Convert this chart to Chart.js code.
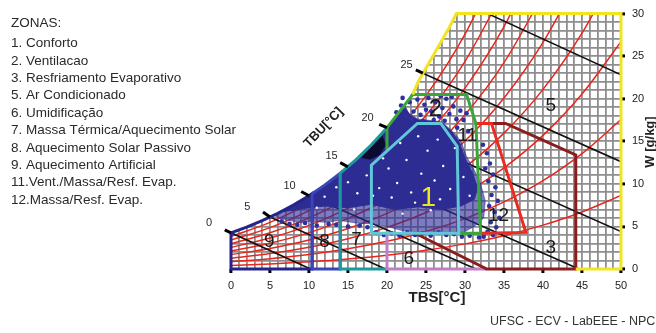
<!DOCTYPE html>
<html>
<head>
<meta charset="utf-8">
<script src="https://cdn.jsdelivr.net/npm/chart.js@4.4.1/dist/chart.umd.min.js"></script>
<style>
  html, body { margin: 0; padding: 0; background: #fff; }
  #wrap { width: 656px; height: 333px; }
</style>
</head>
<body>
<div id="wrap"><canvas id="psy" width="656" height="333"></canvas></div>
<script>
// carta bioclimatica - TBS x W, com zonas e dados horarios

// linhas de umidade relativa (10..90%), W [g/kg] nos pontos de TBS
var tbsPts = [0, 5, 10, 15, 20, 25, 30, 35, 40, 45, 50];
var rh10 = [0.42, 0.60, 0.85, 1.18, 1.62, 2.20, 2.95, 3.91, 5.15, 6.70, 8.65];
var rh20 = [0.85, 1.21, 1.70, 2.37, 3.25, 4.41, 5.92, 7.88, 10.38, 13.55, 17.55];
var rh30 = [1.27, 1.81, 2.56, 3.56, 4.89, 6.64, 8.93, 11.89, 15.70, 20.55, 26.70];
var rh40 = [1.69, 2.42, 3.41, 4.75, 6.53, 8.89, 11.96, 15.96, 21.10, 27.70, 36.1];
var rh50 = [2.12, 3.03, 4.27, 5.95, 8.19, 11.15, 15.03, 20.08, 26.61, 35.0];
var rh60 = [2.54, 3.64, 5.13, 7.15, 9.85, 13.42, 18.12, 24.25, 32.2];
var rh70 = [2.97, 4.25, 6.00, 8.36, 11.53, 15.72, 21.24, 28.47, 37.9];
var rh80 = [3.40, 4.86, 6.86, 9.57, 13.21, 18.03, 24.40, 32.75];
var rh90 = [3.82, 5.47, 7.73, 10.79, 14.90, 20.36, 27.58, 37.1];

// curva de saturacao
var satT = [0, 2, 4, 6, 8, 10, 12, 14, 16, 18, 20, 22, 24, 26, 28, 28.9];
var satW = [4.25, 4.92, 5.67, 6.53, 7.5, 8.6, 9.85, 11.25, 12.82, 14.6, 16.6, 18.9, 22.0, 25.2, 28.4, 30];
// borda superior/esquerda fora da carta (sem grade)
var outerEdge = [[0, 4.25], [0, 30], [28.9, 30]];

// linhas de TBU (inicio na saturacao, fim)
var tbuNames = ['0', '5', '10', '15', '20', '25', ''];
var tbuFrom = [[0, 4.25], [5, 6.1], [10, 8.6], [15, 12.0], [20, 16.6], [24.6, 23.0], [32.9, 30]];
var tbuTo = [[10.2, 0], [19.8, 0], [31.4, 0], [44.6, 0], [50, 4.4], [50, 12.6], [50, 22.8]];
var tbuTick = [[-0.8, 4.6], [4.1, 6.7], [9.0, 9.1], [14.0, 12.5], [19.0, 17.0], [23.7, 23.4]];

// zonas
var zone9 = [[0, 4.25], [2, 4.92], [4, 5.67], [6, 6.53], [8, 7.5], [10, 8.6], [10.4, 8.85], [10.4, 0], [0, 0], [0, 4.25]];
var zone8 = [[10.4, 8.85], [12, 9.85], [14, 11.25], [14, 0], [10.4, 0], [10.4, 8.85]];
var zone7 = [[20, 16.6], [18, 14.6], [16, 12.82], [14, 11.25], [14, 0], [20, 0]];
var zone6 = [[20, 4.2], [20, 0], [32.8, 0]];
var zone1 = [[18, 4.2], [18, 12.2], [23.9, 17.1], [26.9, 17.1], [29, 14.4], [29.2, 4.2], [18, 4.2]];
var zone2 = [[20, 13.9], [20, 16.6], [23.3, 20.5], [30.2, 20.5], [31.4, 17.1], [32, 4.2], [29.2, 4.2]];
var zone3 = [[23.6, 4.2], [32.8, 0], [44.2, 0], [44.2, 13.4], [35.2, 17.1], [33.4, 17.1]];
var zone12 = [[31.4, 17.1], [33.4, 17.1], [37.8, 4.3], [32, 4.2]];
var zone5 = [[23.3, 20.5], [24, 22.0], [26, 25.2], [28, 28.4], [28.9, 30], [50, 30], [50, 0], [44.2, 0]];

// nuvem de dados horarios: contorno externo (franja) e nucleo denso
var cloud = [[5.5, 6.35], [8, 7.5], [10, 8.6], [12, 9.85], [14, 11.25], [16, 12.82], [18, 14.6], [20, 16.6],
  [21, 17.7], [22.3, 19.2], [22.8, 18.3], [24, 17.6], [27, 17.3], [28.5, 16.1], [29.5, 15.0], [30.2, 13.2],
  [31.2, 11.6], [32, 10], [32.6, 8], [32.4, 6], [31.2, 5.0], [30, 4.4], [28, 4.4], [25, 4.3], [22, 4.5],
  [20, 5.0], [18, 5.3], [16, 5.4], [14, 5.7], [12, 5.5], [10, 5.6], [9, 5.4], [7, 5.8], [6, 6.0], [5.5, 6.35]];
var core = [[6.2, 6.7], [8, 7.5], [10, 8.6], [12, 9.85], [14, 11.25], [16, 12.82], [18, 14.6], [20, 16.6],
  [21, 17.7], [22.3, 18.9], [23, 18.0], [24, 17.5], [27, 17.2], [28.4, 16.0], [29.3, 14.8], [30, 13.0],
  [31, 11.2], [31.6, 9.5], [31.2, 8.2], [29.5, 7.4], [27, 7.0], [24, 7.3], [21, 7.0], [18, 7.6], [15, 7.2],
  [12, 7.4], [10, 7.2], [8, 6.9], [6.2, 6.7]];
var blob = [[16.8, 13.1], [18, 14.3], [19.4, 15.6], [19.8, 14.6], [19, 13.4], [17.8, 12.9], [16.8, 13.1]];
var dotsT = [21.2, 21.8, 22.4, 22.9, 23.4, 23.9, 24.3, 24.8, 25.3, 25.7, 26.2, 26.7, 27.1, 27.6, 28.0, 28.5, 28.9, 29.4, 29.8, 30.2,
  23.1, 24.6, 26.0, 27.4, 29.0, 30.4, 22.0, 26.9, 25.0, 28.3,
  32.3, 32.8, 33.2, 32.6, 33.6, 33.0, 33.9, 33.4, 34.2, 33.1, 33.8, 34.4, 33.3, 34.0, 32.9, 33.6, 32.4, 31.8, 30.6, 29.6,
  18.6, 19.6, 20.6, 21.6, 22.6, 23.6, 24.6, 25.6, 26.6, 27.6, 28.6,
  6.5, 7.5, 8.5, 9.5, 11, 12.5, 13.5, 15, 16.5, 17.5];
var dotsW = [18.4, 19.2, 18.0, 19.6, 18.5, 19.9, 18.1, 19.3, 20.1, 18.5, 19.6, 17.9, 18.9, 20.0, 18.2, 19.1, 17.6, 18.6, 17.5, 18.3,
  17.6, 17.4, 17.5, 17.4, 16.6, 16.2, 20.1, 20.3, 18.7, 20.2,
  14.6, 13.6, 12.4, 11.8, 11.1, 10.3, 9.6, 8.7, 8.0, 7.4, 6.7, 6.0, 5.5, 4.9, 4.4, 4.0, 3.8, 3.7, 3.9, 3.8,
  4.3, 4.0, 4.2, 3.9, 4.3, 4.0, 4.2, 3.9, 4.3, 4.0, 4.1,
  5.6, 5.3, 5.2, 5.4, 5.1, 5.3, 5.2, 5.0, 5.1, 4.9];
var specksT = [12, 13.5, 15, 16.2, 17.4, 19, 20.2, 21.3, 22.5, 23.1, 24.4, 25.2, 26.1, 27.2, 28.1, 28.7, 21.7, 24, 26.5, 19.5,
  23.6, 26.8, 20.6, 18.2, 29.8, 30.6, 25.6, 22, 15.8, 11];
var specksW = [8.5, 9.6, 10.2, 8.9, 11.0, 9.5, 11.8, 10.1, 12.8, 9.0, 11.2, 13.9, 10.4, 12.1, 9.4, 14.2, 14.8, 15.6, 15.2, 13.0,
  7.8, 8.2, 8.4, 8.6, 10.8, 8.6, 6.9, 6.5, 7.0, 7.2];

var zoneNames = ['1. Conforto', '2. Ventilacao', '3. Resfriamento Evaporativo', '5. Ar Condicionado',
  '6. Umidificação', '7. Massa Térmica/Aquecimento Solar', '8. Aquecimento Solar Passivo',
  '9. Aquecimento Artificial', '11.Vent./Massa/Resf. Evap.', '12.Massa/Resf. Evap.'];
var zoneLabels = ['1', '2', '3', '5', '6', '7', '8', '9', '11', '12'];
var zoneLabelAt = [[25.3, 8.3], [26.2, 18.7], [41, 2.5], [41, 19.2], [22.8, 1.2], [16.1, 3.4], [12, 3.2], [4.9, 3.2], [30.3, 15.7], [34.3, 6.2]];

function pairs(list) { return list.map(function (p) { return {x: p[0], y: p[1]}; }); }
function xy(xs, ys) { return ys.map(function (y, i) { return {x: xs[i], y: y}; }); }

var datasets = [];

// mascara branca acima da saturacao
datasets.push({ data: xy(satT, satW), fill: 'end', backgroundColor: '#ffffff', borderColor: 'rgba(0,0,0,0)', borderWidth: 0, order: 100 });
datasets.push({ data: pairs(outerEdge), borderColor: '#ffffff', borderWidth: 5, order: 99, clip: 4 });

[rh10, rh20, rh30, rh40, rh50, rh60, rh70, rh80, rh90].forEach(function (r) {
  datasets.push({ data: xy(tbsPts, r), borderColor: '#e8261c', borderWidth: 1.5, cubicInterpolationMode: 'monotone', order: 90 });
});

tbuFrom.forEach(function (p, i) {
  datasets.push({ data: pairs([p, tbuTo[i]]), borderColor: '#111', borderWidth: 1.6, order: 80 });
});

datasets.push({ data: pairs(cloud), fill: 'shape', backgroundColor: 'rgba(44,44,150,0.62)', borderColor: 'rgba(44,44,150,0.5)', borderWidth: 1, order: 71 });
datasets.push({ data: pairs(core), fill: 'shape', backgroundColor: '#2c2c93', borderColor: '#2c2c93', borderWidth: 1, order: 70 });
datasets.push({ data: pairs(blob), fill: 'shape', backgroundColor: '#0c0c30', borderColor: '#0c0c30', borderWidth: 1, order: 69 });
datasets.push({ data: xy(dotsT, dotsW), showLine: false, pointRadius: 2.3, pointBackgroundColor: '#2f2fa0', pointBorderWidth: 0, order: 68 });
datasets.push({ data: xy(specksT, specksW), showLine: false, pointRadius: 1.2, pointBackgroundColor: '#ffffff', pointBorderWidth: 0, order: 67 });

var zoneStyle = [
  [zone9, '#24248a', 60], [zone8, '#3b45b8', 59], [zone7, '#1c9a9a', 58], [zone6, '#c27ec4', 57],
  [zone3, '#8a1e1e', 56], [zone12, '#ec2a1e', 55], [zone2, '#3aa63a', 54], [zone1, '#62c6d8', 53], [zone5, '#f2e41e', 52]
];
zoneStyle.forEach(function (z) {
  datasets.push({ data: pairs(z[0]), borderColor: z[1], borderWidth: 3, order: z[2], clip: 3 });
});

tbuTick.forEach(function (p, i) {
  datasets.push({ data: pairs([p, tbuFrom[i]]), borderColor: '#000', borderWidth: 3, order: 51, clip: {left: 20, top: 5, right: 0, bottom: 0} });
});

var textPlugin = {
  id: 'texts',
  afterDraw: function (chart) {
    var ctx = chart.ctx, xs = chart.scales.x, ys = chart.scales.y;
    var fam = '"Liberation Sans", Arial, sans-serif';
    ctx.save();
    ctx.textBaseline = 'middle';
    ctx.fillStyle = '#2a2a2a';
    ctx.textAlign = 'left';
    ctx.font = '13.5px ' + fam;
    ctx.fillText('ZONAS:', 11, 23);
    zoneNames.forEach(function (n, i) { ctx.fillText(n, 11, 43.5 + i * 17.4); });

    // TBU
    ctx.font = '11px ' + fam;
    ctx.textAlign = 'center';
    var tbuLabelAt = [[-2.8, 5.4], [2.1, 7.3], [7.5, 9.7], [12.9, 13.3], [17.5, 17.7], [22.5, 24.0]];
    tbuLabelAt.forEach(function (p, i) {
      ctx.fillText(tbuNames[i], xs.getPixelForValue(p[0]), ys.getPixelForValue(p[1]));
    });
    ctx.save();
    ctx.translate(323.5, 127.5);
    ctx.rotate(-46 * Math.PI / 180);
    ctx.font = 'bold 13px ' + fam;
    ctx.fillStyle = '#222';
    ctx.fillText('TBU[°C]', 0, 0);
    ctx.restore();

    // zonas
    zoneLabels.forEach(function (l, i) {
      var p = zoneLabelAt[i];
      ctx.font = (l === '1' ? '28px ' : (l === '2' ? '24px ' : '19px ')) + fam;
      ctx.fillStyle = l === '1' ? '#f0e41e' : '#1a1a1a';
      ctx.fillText(l, xs.getPixelForValue(p[0]), ys.getPixelForValue(p[1]));
    });

    // eixos
    ctx.fillStyle = '#222';
    ctx.font = 'bold 15px ' + fam;
    ctx.fillText('TBS[°C]', 437, 298);
    ctx.save();
    ctx.translate(650, 142);
    ctx.rotate(-Math.PI / 2);
    ctx.font = 'bold 13px ' + fam;
    ctx.fillText('W [g/kg]', 0, 0);
    ctx.restore();

    ctx.textAlign = 'left';
    ctx.font = '12.5px ' + fam;
    ctx.fillStyle = '#333';
    ctx.fillText('UFSC - ECV - LabEEE - NPC', 490, 322);
    ctx.restore();
  }
};

function tickCol(c) { return c.tick && c.tick.value % 5 === 0 ? '#000' : 'rgba(0,0,0,0)'; }
function gridCol(max) {
  return function (c) {
    var v = c.tick ? c.tick.value : -1;
    return (v === 0 || v === max) ? 'rgba(0,0,0,0)' : '#8e8e8e';
  };
}

var chart = new Chart(document.getElementById('psy').getContext('2d'), {
  type: 'line',
  data: { datasets: datasets },
  options: {
    responsive: false,
    animation: false,
    events: [],
    layout: { padding: { left: 231, right: 5, top: 13, bottom: 34 } },
    elements: { point: { radius: 0 }, line: { tension: 0, fill: false } },
    plugins: { legend: { display: false }, tooltip: { enabled: false } },
    scales: {
      x: {
        type: 'linear', min: 0, max: 50,
        afterFit: function (s) { s.height = 30; },
        border: { display: false },
        grid: { color: gridCol(50), lineWidth: 1.8, tickLength: 4, tickWidth: 3, tickColor: tickCol },
        ticks: {
          stepSize: 1, autoSkip: false, maxRotation: 0, padding: 6, color: '#222',
          font: { size: 11, family: '"Liberation Sans", Arial, sans-serif' },
          callback: function (v) { return v % 5 === 0 ? String(v) : ''; }
        }
      },
      y: {
        type: 'linear', position: 'right', min: 0, max: 30,
        afterFit: function (s) { s.width = 30; },
        border: { display: false },
        grid: { color: gridCol(30), lineWidth: 1.8, tickLength: 4, tickWidth: 3, tickColor: tickCol },
        ticks: {
          stepSize: 1, autoSkip: false, padding: 7, color: '#222',
          font: { size: 11, family: '"Liberation Sans", Arial, sans-serif' },
          callback: function (v) { return v % 5 === 0 ? String(v) : ''; }
        }
      }
    }
  },
  plugins: [textPlugin]
});
</script>
</body>
</html>
